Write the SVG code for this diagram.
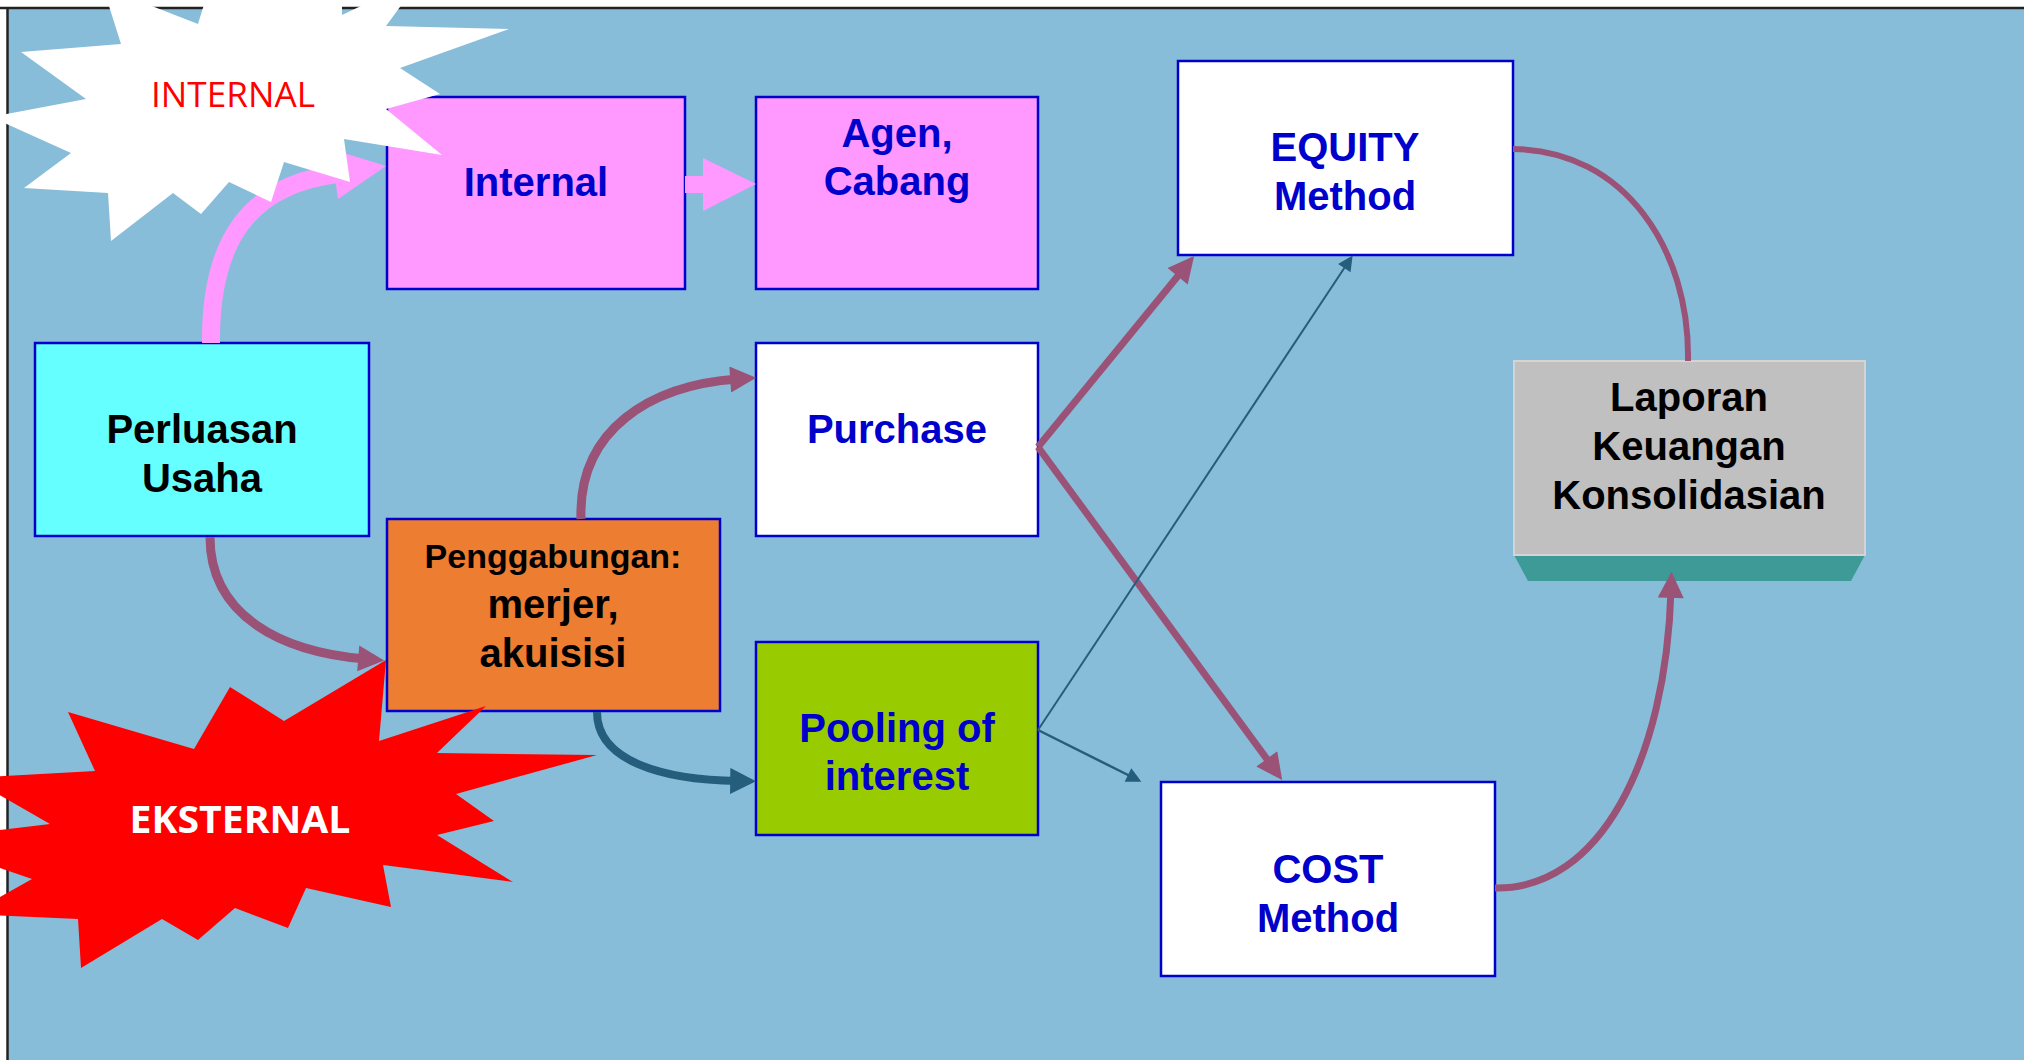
<svg xmlns="http://www.w3.org/2000/svg" width="2024" height="1060" viewBox="0 0 2024 1060">
<style>
.box{stroke:#0000CC;stroke-width:2.5}
.t{font-family:"Liberation Sans",Arial,sans-serif;font-weight:bold;font-size:40px;text-anchor:middle}
.blue{fill:#0000CC}
.blk{fill:#000000}
.mv{fill:none;stroke:#9A5276}
.tl{fill:none;stroke:#245E7C}
</style>
<defs>
<marker id="mvh" viewBox="0 0 10 10" refX="3" refY="5" markerWidth="27" markerHeight="26" markerUnits="userSpaceOnUse" orient="auto"><path d="M0,0 L10,5 L0,10 z" fill="#9A5276"/></marker>
<marker id="tlh" viewBox="0 0 10 10" refX="3" refY="5" markerWidth="26" markerHeight="26" markerUnits="userSpaceOnUse" orient="auto"><path d="M0,0 L10,5 L0,10 z" fill="#245E7C"/></marker>
<marker id="tls" viewBox="0 0 10 10" refX="3" refY="5" markerWidth="16" markerHeight="15" markerUnits="userSpaceOnUse" orient="auto"><path d="M0,0 L10,5 L0,10 z" fill="#245E7C"/></marker>
</defs>
<rect x="0" y="0" width="2024" height="1060" fill="#FFFFFF"/>
<rect x="7" y="8" width="2017" height="1052" fill="#88BDD9"/>
<line x1="0" y1="8" x2="2024" y2="8" stroke="#222" stroke-width="2.5"/>
<line x1="7.5" y1="8" x2="7.5" y2="1060" stroke="#222" stroke-width="2.5"/>

<g id="node-internal"><rect class="box" x="387" y="97" width="298" height="192" fill="#FF99FF"/><text class="t blue" x="536" y="196">Internal</text></g>
<g id="node-agen"><rect class="box" x="756" y="97" width="282" height="192" fill="#FF99FF"/><text class="t blue" x="897" y="147">Agen,</text><text class="t blue" x="897" y="195">Cabang</text></g>
<g id="node-equity"><rect class="box" x="1178" y="61" width="335" height="194" fill="#FFFFFF"/><text class="t blue" x="1345" y="161">EQUITY</text><text class="t blue" x="1345" y="210">Method</text></g>
<g id="node-perluasan"><rect class="box" x="35" y="343" width="334" height="193" fill="#66FFFF"/><text class="t blk" x="202" y="443">Perluasan</text><text class="t blk" x="202" y="492">Usaha</text></g>
<g id="node-purchase"><rect class="box" x="756" y="343" width="282" height="193" fill="#FFFFFF"/><text class="t blue" x="897" y="443">Purchase</text></g>
<g id="node-penggabungan"><rect class="box" x="387" y="519" width="333" height="192" fill="#ED7D31"/><text class="t blk" x="553" y="568" style="font-size:34px">Penggabungan:</text><text class="t blk" x="553" y="618">merjer,</text><text class="t blk" x="553" y="667">akuisisi</text></g>
<g id="node-pooling"><rect class="box" x="756" y="642" width="282" height="193" fill="#99CC00"/><text class="t blue" x="897" y="742">Pooling of</text><text class="t blue" x="897" y="790">interest</text></g>
<g id="node-cost"><rect class="box" x="1161" y="782" width="334" height="194" fill="#FFFFFF"/><text class="t blue" x="1328" y="883">COST</text><text class="t blue" x="1328" y="932">Method</text></g>
<g id="node-laporan"><polygon points="1514,555 1865,555 1851,581 1528,581" fill="#3D9A96"/><rect x="1514" y="361" width="351" height="194" fill="#C0C0C0" stroke="#D4D4D4" stroke-width="2"/><text class="t blk" x="1689" y="411">Laporan</text><text class="t blk" x="1689" y="460">Keuangan</text><text class="t blk" x="1689" y="509">Konsolidasian</text></g>

<g id="connectors">
<path d="M211 343 C210 240 250 185 337 174" fill="none" stroke="#FF99FF" stroke-width="18"/>
<polygon points="386,166 331,149 338,199" fill="#FF99FF"/>
<polygon points="685,176 703,176 703,158 756,184 703,211 703,193 685,193" fill="#FF99FF"/>
<path class="mv" d="M210 537 C210 615 280 652 366 659" stroke-width="9" marker-end="url(#mvh)"/>
<path class="mv" d="M581 519 C578 430 650 385 738 379" stroke-width="9" marker-end="url(#mvh)"/>
<path class="tl" d="M597 712 C597 760 660 780 738 781" stroke-width="8" marker-end="url(#tlh)"/>
<path class="mv" d="M1038 447 L1182.6 270.2" stroke-width="7" marker-end="url(#mvh)"/>
<path class="mv" d="M1038 447 L1271.4 765.2" stroke-width="7" marker-end="url(#mvh)"/>
<path class="tl" d="M1038 730 L1346.8 264.3" stroke-width="2" marker-end="url(#tls)"/>
<path class="tl" d="M1038 730 L1132 777" stroke-width="2.5" marker-end="url(#tls)"/>
<path class="mv" d="M1513 149 C1625 150 1690 250 1688 361" stroke-width="6"/>
<path class="mv" d="M1495 888 C1600 890 1666 760 1671 590" stroke-width="7" marker-end="url(#mvh)"/>
</g>

<g id="burst-internal">
<polygon fill="#FFFFFF" points="21,52 121,44 103,-13 198,24 210,-15 342,-15 342,15 422,-23 386,26 509,29 400,68 440,94 386,109 442,155 344,139 350,182 284,162 271,202 229,182 201,214 173,193 111,241 108,193 24,188 71,153 -9,117 86,99"/>
<text x="233" y="107" textLength="164" lengthAdjust="spacingAndGlyphs" style="font-family:'Open Sans','Liberation Sans',sans-serif;font-size:34px;text-anchor:middle;fill:#FF0000">INTERNAL</text>
</g>
<g id="burst-eksternal">
<polygon fill="#FF0000" points="386,660 379,741 486,706 437,753 597,755 456,794 494,821 437,835 513,882 383,865 391,907 306,888 288,928 235,908 198,940 162,919 81,968 78,919 -30,914 32,879 -82,840 50,824 -30,778 95,771 68,712 194,749 230,687 284,721"/>
<text x="240" y="833" textLength="221" lengthAdjust="spacingAndGlyphs" style="font-family:'Open Sans','Liberation Sans',sans-serif;font-weight:bold;font-size:38px;text-anchor:middle;fill:#FFFFFF">EKSTERNAL</text>
</g>
</svg>
